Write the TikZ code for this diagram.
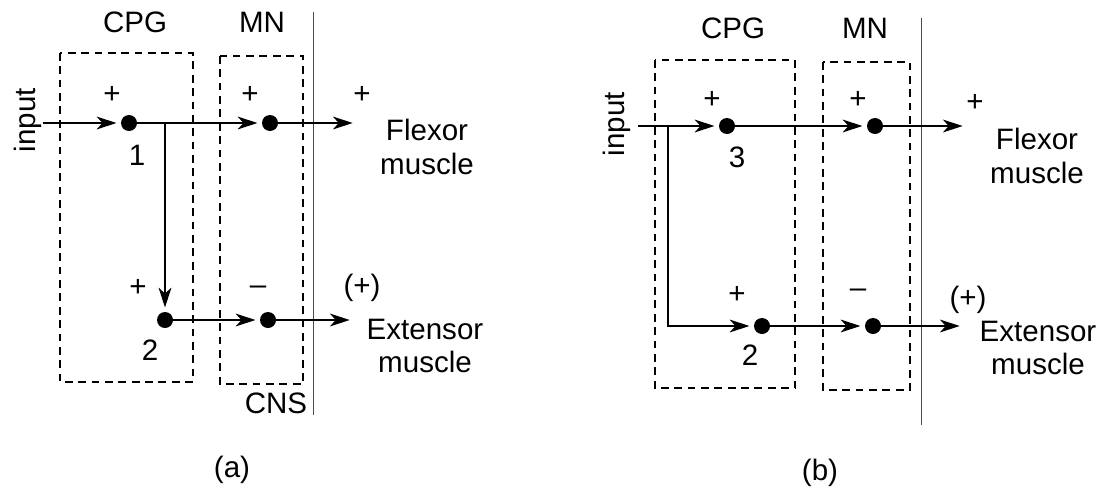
\documentclass[tikz,border=0pt]{standalone}
\usepackage{fontspec}
\setmainfont{Liberation Sans}
\usetikzlibrary{arrows.meta,positioning}

\begin{document}
\begin{tikzpicture}[
  x=0.025cm,y=-0.025cm,
  every node/.style={font=\fontsize{21}{24}\selectfont,align=center,inner sep=0pt},
  cell/.style={circle,fill=black,minimum size=0.4cm,inner sep=0pt},
  arr/.style={-{Stealth[length=14pt,width=9pt,inset=4pt]},line width=1.9pt,shorten >=3pt},
  dbox/.style={line width=1.5pt,dash pattern=on 5.5pt off 4pt},
  cns/.style={line width=0.6pt,black!70}
]
\useasboundingbox (0,0) rectangle (1104,493);

% (a)
\draw[dbox] (60,53) rectangle (193,382);
\draw[dbox] (220,56) rectangle (303,384);
\draw[cns] (313,12) -- (313,415);
\node (cpgA) at (135,22) {CPG};
\node (mnA) at (262,22) {MN};
\node[rotate=90] (inA) at (28,120) {input};
\coordinate (srcA) at (43,123);
\node[cell] (c1) at (129,123) {};
\node[cell] (mfA) at (270,123) {};
\node[cell] (c2) at (165,320) {};
\node[cell] (meA) at (268,320) {};
\coordinate (brA) at (165,123);
\coordinate (flA) at (357,123);
\coordinate (exA) at (354,320);
\draw[arr] (srcA) -- (c1);
\draw[arr] (c1) -- (mfA);
\draw[arr] (brA) -- (c2);
\draw[arr] (c2) -- (meA);
\draw[arr] (mfA) -- (flA);
\draw[arr] (meA) -- (exA);
\node (p1A) at (112,95) {+};
\node (p2A) at (250,95) {+};
\node (p3A) at (362,95) {+};
\node (p4A) at (138,288) {+};
\node (m1A) at (258,290) {--};
\node (p5A) at (362,288) {(+)};
\node (n1) at (137,155) {1};
\node (n2) at (150,350) {2};
\node (flexA) at (427,147) {Flexor\\muscle};
\node (extA) at (425,346) {Extensor\\muscle};
\node (cnsA) at (276,403) {CNS};
\node (capA) at (232,470) {(a)};

% (b)
\draw[dbox] (655,60) rectangle (795,388);
\draw[dbox] (823,62) rectangle (910,390);
\draw[cns] (921,18) -- (921,425);
\node (cpgB) at (733,28) {CPG};
\node (mnB) at (865,28) {MN};
\node[rotate=90] (inB) at (617,124) {input};
\coordinate (srcB) at (638,126);
\node[cell] (c3) at (727,126) {};
\node[cell] (mfB) at (875,126) {};
\node[cell] (c2b) at (762,326) {};
\node[cell] (meB) at (873,326) {};
\coordinate (brB) at (668,126);
\coordinate (flB) at (967,126);
\coordinate (exB) at (964,326);
\draw[arr] (srcB) -- (c3);
\draw[arr] (c3) -- (mfB);
\draw[arr] (brB) |- (c2b);
\draw[arr] (c2b) -- (meB);
\draw[arr] (mfB) -- (flB);
\draw[arr] (meB) -- (exB);
\node (p1B) at (712,100) {+};
\node (p2B) at (858,100) {+};
\node (p3B) at (975,103) {+};
\node (p4B) at (737,295) {+};
\node (m1B) at (858,293) {--};
\node (p5B) at (968,300) {(+)};
\node (n3) at (737,157) {3};
\node (n2b) at (750,355) {2};
\node (flexB) at (1037,156) {Flexor\\muscle};
\node (extB) at (1038,348) {Extensor\\muscle};
\node (capB) at (820,473) {(b)};
\end{tikzpicture}
\end{document}
